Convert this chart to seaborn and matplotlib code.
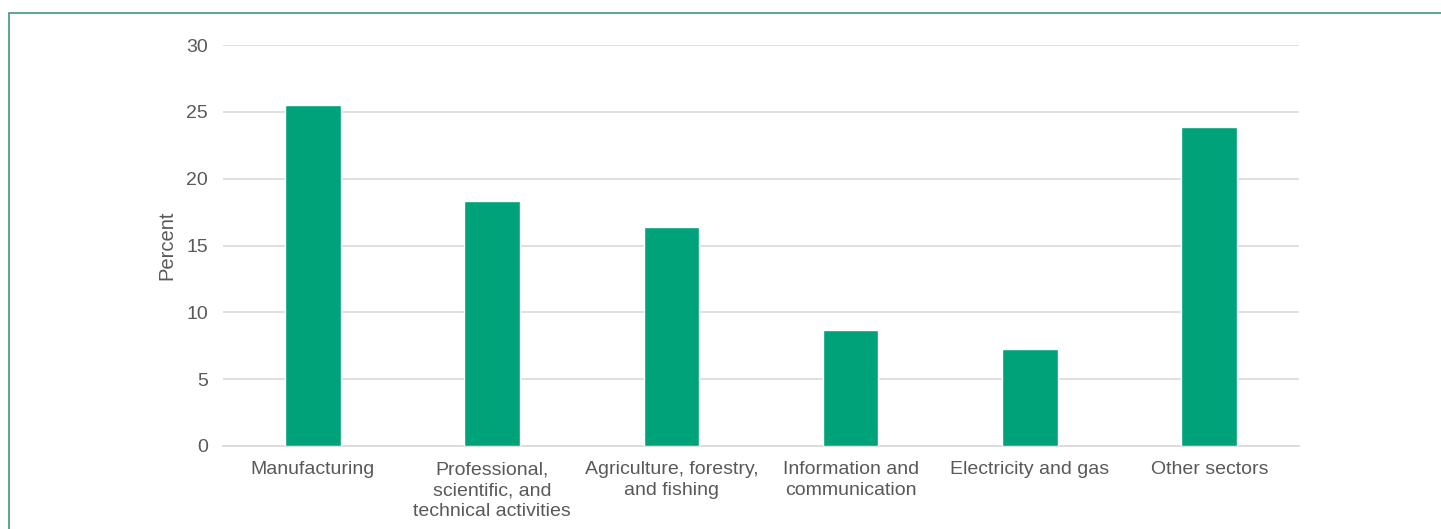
import matplotlib
matplotlib.use("Agg")
import matplotlib.pyplot as plt
import seaborn as sns
import pandas as pd
from matplotlib.patches import Rectangle

sectors = ["Manufacturing", "Professional,\nscientific, and\ntechnical activities",
           "Agriculture, forestry,\nand fishing", "Information and\ncommunication",
           "Electricity and gas", "Other sectors"]
percent = [25.5, 18.3, 16.4, 8.7, 7.25, 23.9]

df = pd.DataFrame({"sector": sectors, "percent": percent})

sns.set_theme(style="white")
plt.rcParams['font.family'] = ['Liberation Sans', 'DejaVu Sans']

fig = plt.figure(figsize=(14.41, 5.29), dpi=100)
ax = fig.add_axes([0.1548, 0.1569, 0.9014 - 0.1548, 0.9149 - 0.1569])

sns.barplot(data=df, x="sector", y="percent", color="#00A27A", width=0.31,
            saturation=1, ax=ax, zorder=3)

ax.set_ylim(0, 30)
ax.set_yticks(range(0, 31, 5))
ax.set_xlim(-0.5, 5.5)
ax.grid(axis="y", color="#d9d9d9", linewidth=1.2, zorder=0)
for s in ["top", "right", "left"]:
    ax.spines[s].set_visible(False)
ax.spines["bottom"].set_color("#d9d9d9")
ax.spines["bottom"].set_linewidth(1.2)
ax.tick_params(axis="both", length=0, labelsize=14, colors="#595959")
ax.tick_params(axis="y", pad=11)
ax.tick_params(axis="x", pad=11)
for t in ax.get_xticklabels():
    t.set_linespacing(1.3)
ax.set_xlabel("")
ax.set_ylabel("Percent", fontsize=14.5, color="#595959")
ax.yaxis.set_label_coords(-0.043, 0.5)

fig.add_artist(Rectangle((9 / 1441, -0.1), 1.2, 1 - 13 / 529 + 0.1,
                         transform=fig.transFigure, fill=False,
                         edgecolor="#3E9A7C", linewidth=1.2))

fig.savefig("out.png", dpi=100)
